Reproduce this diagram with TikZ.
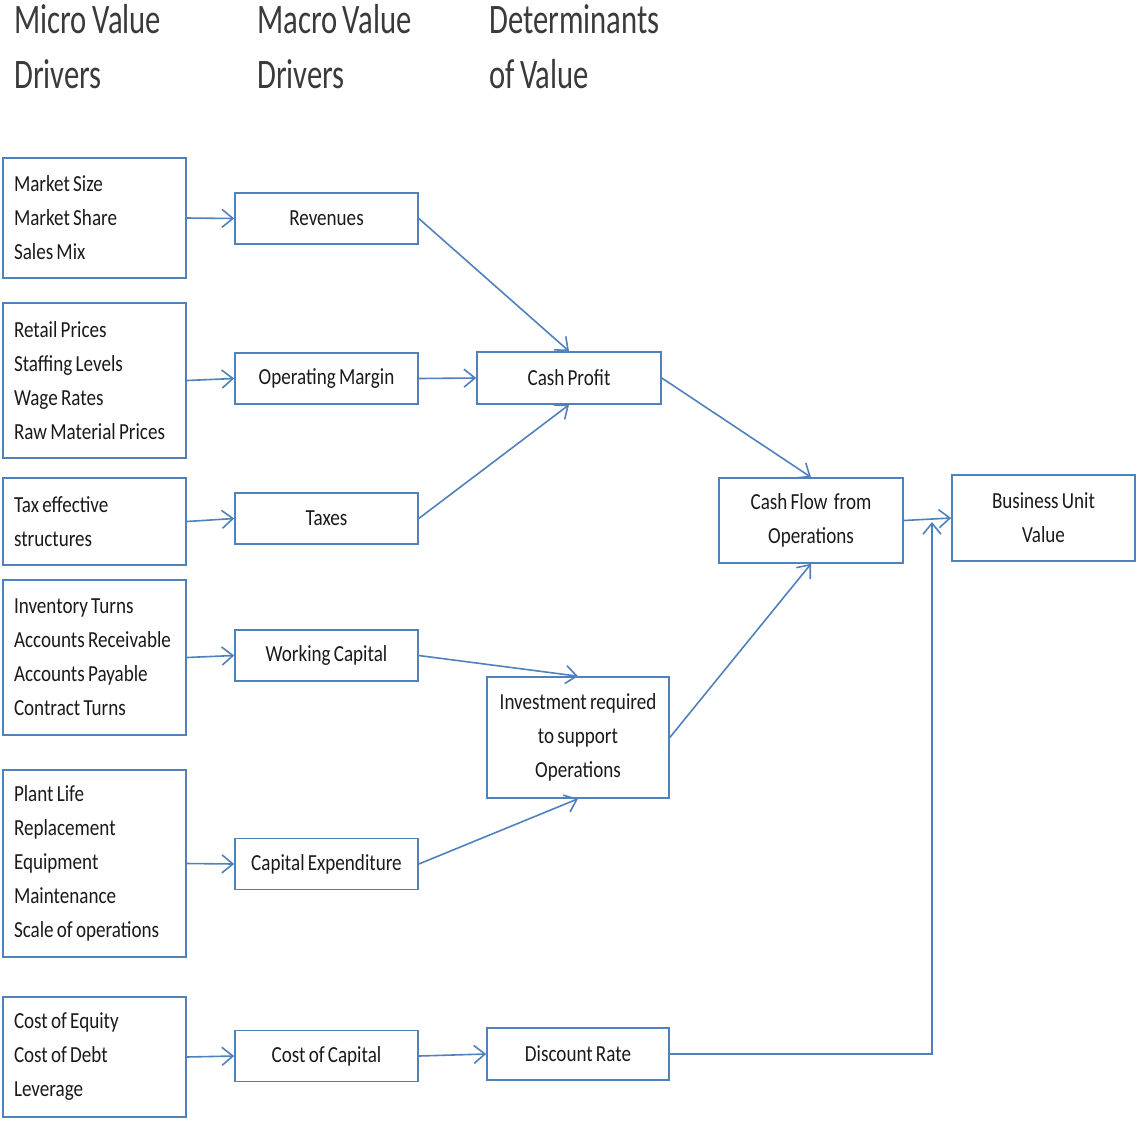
\documentclass[tikz,border=0pt]{standalone}
\usepackage{fontspec}
\setmainfont{Carlito}[FakeStretch=0.83, WordSpace=0.75]
\newfontfamily\hdrfont{Carlito}[FakeStretch=0.73, WordSpace=0.8]
\usetikzlibrary{arrows.meta}
\definecolor{lineblue}{HTML}{4F81BD}
\definecolor{hdrgray}{HTML}{3A3A3A}
\definecolor{txt}{HTML}{1A1A1A}
\tikzset{
  box/.style={draw=lineblue, line width=1.6pt, rectangle, inner sep=0pt, text=txt,
    font=\fontsize{23}{34}\selectfont},
  microbox/.style={box, minimum width=183pt, text width=161pt, align=flush left},
  macrobox/.style={box, minimum width=183pt, minimum height=51pt, align=center},
  hdr/.style={anchor=north west, inner sep=0pt, align=flush left, text=hdrgray,
    font=\hdrfont\fontsize{42}{55}\selectfont},
  conn/.style={draw=lineblue, line width=1.6pt, -{Straight Barb[length=11pt,width=18pt,line width=1.6pt]}},
}
\begin{document}
\begin{tikzpicture}[x=1pt,y=-1pt]
\useasboundingbox (0,0) rectangle (1138,1120);
% headers
\node[hdr] (h1) at (14,4) {Micro Value\\Drivers};
\node[hdr] (h2) at (257,4) {Macro Value\\Drivers};
\node[hdr] (h3) at (489,4) {Determinants\\of Value};
% micro boxes
\node[microbox, minimum height=120pt] (m1) at (94.5,218) {Market Size\\Market Share\\Sales Mix};
\node[microbox, minimum height=155pt] (m2) at (94.5,380.5) {Retail Prices\\Staffing Levels\\Wage Rates\\Raw Material Prices};
\node[microbox, minimum height=87pt] (m3) at (94.5,521.5) {Tax effective\\structures};
\node[microbox, minimum height=155pt] (m4) at (94.5,657.5) {Inventory Turns\\Accounts Receivable\\Accounts Payable\\Contract Turns};
\node[microbox, minimum height=187pt] (m5) at (94.5,863.5) {Plant Life\\Replacement\\Equipment\\Maintenance\\Scale of operations};
\node[microbox, minimum height=120pt] (m6) at (94.5,1057) {Cost of Equity\\Cost of Debt\\Leverage};
% macro boxes
\node[macrobox] (rev) at (326.5,218.5) {Revenues};
\node[macrobox] (opm) at (326.5,378.5) {Operating Margin};
\node[macrobox] (tax) at (326.5,518.5) {Taxes};
\node[macrobox] (wc) at (326.5,655.5) {Working Capital};
\node[macrobox] (capex) at (326.5,864) {Capital Expenditure};
\node[macrobox] (coc) at (326.5,1056) {Cost of Capital};
% determinants
\node[box, minimum width=184pt, minimum height=52pt, align=center] (cp) at (569,378) {Cash Profit};
\node[box, minimum width=182pt, minimum height=121pt, align=center] (inv) at (578,737.5) {Investment required\\to support\\Operations};
\node[box, minimum width=182pt, minimum height=52pt, align=center] (dr) at (578,1054) {Discount Rate};
\node[box, minimum width=184pt, minimum height=85pt, align=center] (cfo) at (811,520.5) {Cash Flow~ from\\Operations};
\node[box, minimum width=183pt, minimum height=86pt, align=center] (buv) at (1043.5,518) {Business Unit\\Value};
\coordinate (turn) at (932,1054);
\coordinate (up) at (932,522);
% connectors
\draw[conn] (m1.east) -- (rev.west);
\draw[conn] (m2.east) -- (opm.west);
\draw[conn] (m3.east) -- (tax.west);
\draw[conn] (m4.east) -- (wc.west);
\draw[conn] (m5.east) -- (capex.west);
\draw[conn] (m6.east) -- (coc.west);
\draw[conn] (rev.east) -- (cp.north);
\draw[conn] (opm.east) -- (cp.west);
\draw[conn] (tax.east) -- (cp.south);
\draw[conn] (wc.east) -- (inv.north);
\draw[conn] (capex.east) -- (inv.south);
\draw[conn] (coc.east) -- (dr.west);
\draw[conn] (cp.east) -- (cfo.north);
\draw[conn] (inv.east) -- (cfo.south);
\draw[conn] (cfo.east) -- (buv.west);
\draw[conn] (dr.east) -- (turn) -- (up);
\end{tikzpicture}
\end{document}
